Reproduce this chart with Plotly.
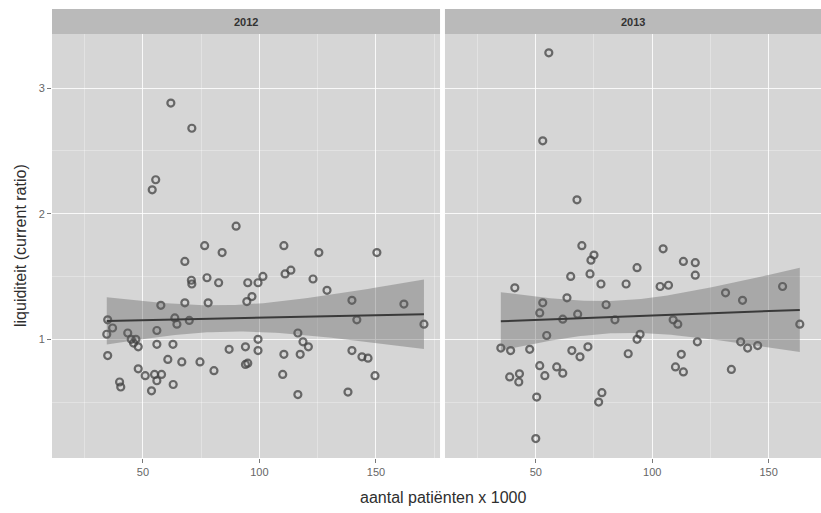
import numpy as np
import plotly.graph_objects as go

# ---- data ----
years = ["2012", "2013"]

x_2012 = [62, 71, 55.5, 54, 90, 76.5, 84, 110.5, 125.5, 150.4, 68, 70.8, 71, 77.5, 82.5,
          95, 99.4, 101.5, 111, 113.5, 123, 129, 162, 170.6, 94.6, 96.8, 57.7, 68, 78,
          63.7, 64.6, 69.9, 34.9, 37, 34.5, 43.5, 45, 47, 48, 46, 56, 56, 62.9, 34.9,
          60.7, 66.7, 74.5, 80.5, 48, 51, 55, 58, 56, 53.7, 63, 40, 40.5, 87, 94, 99.4,
          99.4, 94, 95, 110.5, 117.5, 116.5, 118.7, 121, 110, 116.5, 139.7, 144, 146.6,
          149.6, 138, 141.8, 139.7]
y_2012 = [2.88, 2.68, 2.27, 2.19, 1.90, 1.745, 1.69, 1.745, 1.69, 1.69, 1.62, 1.47, 1.44,
          1.49, 1.45, 1.45, 1.45, 1.50, 1.52, 1.55, 1.48, 1.39, 1.28, 1.12, 1.30, 1.34,
          1.27, 1.29, 1.29, 1.17, 1.12, 1.15, 1.155, 1.09, 1.04, 1.05, 1.0, 1.0, 0.94,
          0.97, 1.07, 0.96, 0.96, 0.87, 0.84, 0.82, 0.82, 0.75, 0.765, 0.71, 0.72, 0.72,
          0.67, 0.59, 0.64, 0.66, 0.62, 0.92, 0.94, 1.0, 0.91, 0.80, 0.81, 0.88, 0.88,
          1.05, 0.98, 0.94, 0.72, 0.56, 0.91, 0.86, 0.85, 0.71, 0.58, 1.155, 1.31]

x_2013 = [55.6, 53, 67.7, 69.8, 75, 73.7, 104.7, 113.4, 118.5, 118.5, 65, 73.3, 78, 93.5,
          88.8, 103.4, 107, 41, 63.4, 80.2, 53, 51.7, 68, 61.6, 84, 109, 111, 131.5, 138.8,
          156, 163.4, 54.7, 93.5, 94.8, 119.4, 138, 141, 145.3, 35, 39.2, 47.4, 65.5, 69,
          72.4, 89.7, 112.5, 51.7, 59, 61.6, 38.8, 43, 42.7, 53.9, 110, 113.4, 134, 50.4,
          78.4, 77, 50]
y_2013 = [3.28, 2.58, 2.11, 1.745, 1.67, 1.63, 1.72, 1.62, 1.61, 1.51, 1.50, 1.52, 1.44,
          1.57, 1.44, 1.42, 1.43, 1.41, 1.33, 1.275, 1.29, 1.21, 1.20, 1.16, 1.155, 1.155,
          1.12, 1.37, 1.31, 1.42, 1.12, 1.03, 1.0, 1.04, 0.98, 0.98, 0.93, 0.95, 0.93, 0.91,
          0.92, 0.91, 0.86, 0.94, 0.885, 0.88, 0.79, 0.78, 0.73, 0.70, 0.725, 0.66, 0.71,
          0.78, 0.74, 0.76, 0.54, 0.575, 0.50, 0.21]

x_ticks = [50, 100, 150]
y_ticks = [1, 2, 3]
x_title = "aantal patiënten x 1000"
y_title = "liquiditeit (current ratio)"

data = {"2012": (x_2012, y_2012), "2013": (x_2013, y_2013)}

# ---- styling ----
FONT = "Liberation Sans, Arial, Helvetica, sans-serif"
PANEL_BG = "#d6d6d6"
STRIP_BG = "#bababa"
T_CRIT = 1.99

fig = go.Figure()

def lm_band(x, y, n_out=80):
    x = np.asarray(x, float); y = np.asarray(y, float)
    n = len(x)
    b, a = np.polyfit(x, y, 1)
    resid = y - (a + b * x)
    s = np.sqrt(np.sum(resid ** 2) / (n - 2))
    xm = x.mean(); sxx = np.sum((x - xm) ** 2)
    xs = np.linspace(x.min(), x.max(), n_out)
    fit = a + b * xs
    se = s * np.sqrt(1.0 / n + (xs - xm) ** 2 / sxx)
    return xs, fit, fit - T_CRIT * se, fit + T_CRIT * se

for i, yr in enumerate(years):
    xa = "x" if i == 0 else "x2"
    ya = "y" if i == 0 else "y2"
    xv, yv = data[yr]
    fig.add_trace(go.Scatter(
        x=xv, y=yv, mode="markers", xaxis=xa, yaxis=ya, showlegend=False,
        marker=dict(symbol="circle-open", size=7, color="rgba(65,65,65,0.75)",
                    line=dict(width=2.2))))
    xs, fit, lo, hi = lm_band(xv, yv)
    fig.add_trace(go.Scatter(
        x=np.concatenate([xs, xs[::-1]]), y=np.concatenate([hi, lo[::-1]]),
        fill="toself", fillcolor="rgba(95,95,95,0.38)", line=dict(width=0),
        mode="lines", xaxis=xa, yaxis=ya, showlegend=False, hoverinfo="skip"))
    fig.add_trace(go.Scatter(
        x=xs, y=fit, mode="lines", line=dict(color="#3a3a3a", width=2),
        xaxis=xa, yaxis=ya, showlegend=False))

PANEL_TOP = 0.9443
dom1 = [0.0, 0.5046]
dom2 = [0.511, 1.0]

axis_common = dict(
    showgrid=True, gridcolor="rgba(255,255,255,0.8)", gridwidth=1.3,
    zeroline=False, showline=False, ticks="outside", ticklen=4, tickwidth=1,
    tickcolor="#7a7a7a", tickfont=dict(family=FONT, size=11, color="#666666"),
    minor=dict(showgrid=True, gridcolor="rgba(255,255,255,0.3)", gridwidth=0.7),
)

fig.update_layout(
    width=821, height=513,
    margin=dict(l=52, r=0, t=9, b=55),
    paper_bgcolor="white", plot_bgcolor=PANEL_BG,
    font=dict(family=FONT),
    xaxis=dict(axis_common, domain=dom1, range=[11, 177.5], tickvals=x_ticks,
               anchor="y", minor=dict(axis_common["minor"], dtick=25, tick0=0)),
    xaxis2=dict(axis_common, domain=dom2, range=[11, 172.5], tickvals=x_ticks,
                anchor="y2", minor=dict(axis_common["minor"], dtick=25, tick0=0)),
    yaxis=dict(axis_common, domain=[0, PANEL_TOP], range=[0.055, 3.43], tickvals=y_ticks,
               anchor="x", minor=dict(axis_common["minor"], dtick=0.5, tick0=0)),
    yaxis2=dict(axis_common, domain=[0, PANEL_TOP], range=[0.055, 3.43], tickvals=y_ticks,
                anchor="x2", matches="y", showticklabels=False, ticks="",
                minor=dict(axis_common["minor"], dtick=0.5, tick0=0)),
)

shapes = []
annotations = []
for dom, yr in [(dom1, years[0]), (dom2, years[1])]:
    shapes.append(dict(type="rect", xref="paper", yref="paper", x0=dom[0], x1=dom[1],
                       y0=PANEL_TOP, y1=1.0, fillcolor=STRIP_BG, line=dict(width=0),
                       layer="below"))
    annotations.append(dict(text="<b>%s</b>" % yr, xref="paper", yref="paper",
                            x=(dom[0] + dom[1]) / 2, y=(PANEL_TOP + 1.0) / 2,
                            showarrow=False, xanchor="center", yanchor="middle",
                            font=dict(family=FONT, size=11, color="#333333")))
annotations.append(dict(text=x_title, xref="paper", yref="paper", x=0.508, y=0,
                        yshift=-39, showarrow=False, xanchor="center", yanchor="middle",
                        font=dict(family=FONT, size=16, color="#2e2e2e")))
annotations.append(dict(text=y_title, xref="paper", yref="paper", x=0, xshift=-32,
                        y=PANEL_TOP / 2, textangle=-90, showarrow=False,
                        xanchor="center", yanchor="middle",
                        font=dict(family=FONT, size=16, color="#2e2e2e")))
fig.update_layout(shapes=shapes, annotations=annotations)

fig.write_html("out.html")
